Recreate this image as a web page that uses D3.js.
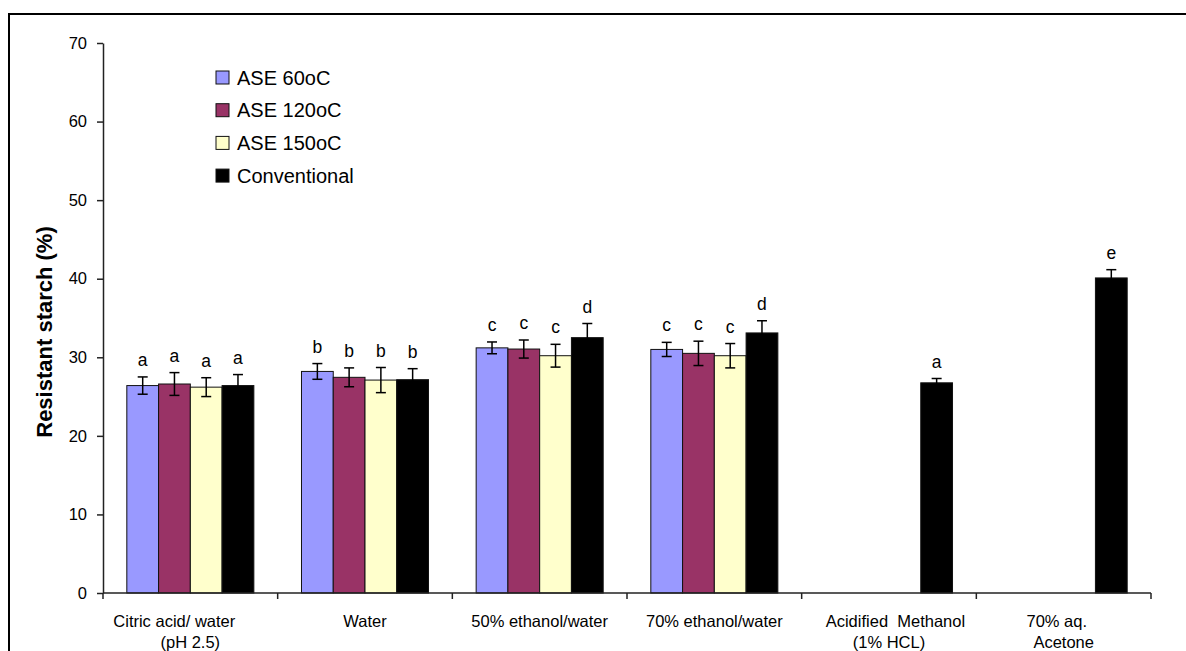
<!DOCTYPE html>
<html>
<head>
<meta charset="utf-8">
<script src="https://cdn.jsdelivr.net/npm/d3@7"></script>
<style>
  html, body { margin: 0; padding: 0; background: #fff; }
  svg { display: block; font-family: "Liberation Sans", Arial, sans-serif; }
</style>
</head>
<body>
<svg id="chart" width="1186" height="651"></svg>
<script>
// Extraction solvents (x categories), each label split over lines
const categories = [
  ["Citric acid/ water       ", "(pH 2.5)"],
  ["Water"],
  ["50% ethanol/water"],
  ["70% ethanol/water"],
  ["   Acidified  Methanol", "(1% HCL)"],
  ["70% aq.   ", "Acetone"]
];

const seriesNames = ["ASE 60oC", "ASE 120oC", "ASE 150oC", "Conventional"];
const seriesColors = ["#9999FF", "#993366", "#FFFFCC", "#000000"];

// Resistant starch (%) per solvent; null = not measured
const ase60 = [26.4, 28.2, 31.2, 31.0, null, null];
const ase120 = [26.6, 27.45, 31.05, 30.5, null, null];
const ase150 = [26.2, 27.1, 30.2, 30.2, null, null];
const conventional = [26.4, 27.15, 32.5, 33.1, 26.75, 40.1];

// Standard deviations
const ase60Err = [1.1, 1.0, 0.75, 0.9, null, null];
const ase120Err = [1.45, 1.2, 1.15, 1.55, null, null];
const ase150Err = [1.2, 1.6, 1.45, 1.55, null, null];
const conventionalErr = [1.4, 1.4, 1.8, 1.55, 0.55, 1.05];

// Significance letters
const ase60Letters = ["a", "b", "c", "c", null, null];
const ase120Letters = ["a", "b", "c", "c", null, null];
const ase150Letters = ["a", "b", "c", "c", null, null];
const conventionalLetters = ["a", "b", "d", "d", "a", "e"];

const yTicks = [0, 10, 20, 30, 40, 50, 60, 70];

const values = [ase60, ase120, ase150, conventional];
const errors = [ase60Err, ase120Err, ase150Err, conventionalErr];
const letters = [ase60Letters, ase120Letters, ase150Letters, conventionalLetters];

const rows = [];
categories.forEach((c, ci) => {
  seriesNames.forEach((s, si) => {
    if (values[si][ci] != null) {
      rows.push({ ci, si, v: values[si][ci], e: errors[si][ci], l: letters[si][ci] });
    }
  });
});

const svg = d3.select("#chart");

// outer chart frame
svg.append("rect")
  .attr("x", 9).attr("y", 14)
  .attr("width", 1300).attr("height", 800)
  .attr("fill", "none").attr("stroke", "#000").attr("stroke-width", 2);

const plot = { left: 103, right: 1151, top: 43, bottom: 593 };

const x = d3.scaleBand()
  .domain(d3.range(categories.length))
  .range([plot.left, plot.right])
  .paddingInner(0).paddingOuter(0);

const xs = d3.scaleBand()
  .domain(d3.range(seriesNames.length))
  .range([0, x.bandwidth()])
  .paddingInner(0).paddingOuter(0.75);

const y = d3.scaleLinear().domain([0, 70]).range([plot.bottom, plot.top]);

const fontTick = "16.5px";

// bars
svg.append("g").selectAll("rect")
  .data(rows)
  .join("rect")
  .attr("x", d => x(d.ci) + xs(d.si))
  .attr("y", d => y(d.v))
  .attr("width", xs.bandwidth())
  .attr("height", d => y(0) - y(d.v))
  .attr("fill", d => seriesColors[d.si])
  .attr("stroke", "#111")
  .attr("stroke-width", 1);

// error bars
const eb = svg.append("g").attr("stroke", "#000").attr("stroke-width", 1.5);
rows.forEach(d => {
  const cx = x(d.ci) + xs(d.si) + xs.bandwidth() / 2;
  const y1 = y(d.v + d.e), y2 = y(d.v - d.e);
  eb.append("line").attr("x1", cx).attr("x2", cx).attr("y1", y1).attr("y2", y2);
  eb.append("line").attr("x1", cx - 5).attr("x2", cx + 5).attr("y1", y1).attr("y2", y1);
  eb.append("line").attr("x1", cx - 5).attr("x2", cx + 5).attr("y1", y2).attr("y2", y2);
});

// significance letters
svg.append("g").selectAll("text")
  .data(rows)
  .join("text")
  .attr("x", d => x(d.ci) + xs(d.si) + xs.bandwidth() / 2)
  .attr("y", d => y(d.v + d.e) - 11)
  .attr("text-anchor", "middle")
  .attr("font-size", "17.5px")
  .attr("fill", "#000")
  .text(d => d.l);

// y axis
const yAxis = svg.append("g")
  .attr("transform", `translate(${plot.left},0)`)
  .call(d3.axisLeft(y).tickValues(yTicks).tickSize(6).tickPadding(10).tickSizeOuter(0));
yAxis.select(".domain").attr("stroke", "#222").attr("stroke-width", 1.5);
yAxis.selectAll(".tick line").attr("stroke", "#222").attr("stroke-width", 1.5);
yAxis.selectAll(".tick text")
  .attr("font-size", fontTick)
  .attr("font-family", "Liberation Sans, Arial, sans-serif")
  .attr("fill", "#000");

// x axis with ticks at category boundaries
const xAxisG = svg.append("g");
xAxisG.append("line")
  .attr("x1", plot.left).attr("x2", plot.right)
  .attr("y1", y(0)).attr("y2", y(0))
  .attr("stroke", "#222").attr("stroke-width", 1.5);
xAxisG.selectAll("line.tk")
  .data(d3.range(categories.length + 1))
  .join("line")
  .attr("class", "tk")
  .attr("x1", i => i < categories.length ? x(i) : plot.right)
  .attr("x2", i => i < categories.length ? x(i) : plot.right)
  .attr("y1", y(0)).attr("y2", y(0) + 6)
  .attr("stroke", "#222").attr("stroke-width", 1.5);

const xl = xAxisG.selectAll("text.cat")
  .data(categories)
  .join("text")
  .attr("class", "cat")
  .attr("text-anchor", "middle")
  .attr("font-size", fontTick)
  .attr("fill", "#000")
  .style("white-space", "pre");
xl.each(function (lines, i) {
  const t = d3.select(this);
  lines.forEach((ln, k) => {
    t.append("tspan")
      .attr("x", x(i) + x.bandwidth() / 2)
      .attr("y", 626.5 + k * 21.5)
      .text(ln);
  });
});

// y axis title
svg.append("text")
  .attr("transform", `translate(52,${(plot.top + plot.bottom) / 2 + 14}) rotate(-90)`)
  .attr("text-anchor", "middle")
  .attr("font-size", "22px")
  .attr("font-weight", "bold")
  .attr("fill", "#000")
  .text("Resistant starch (%)");

// legend
const legend = svg.append("g").attr("transform", "translate(216,77.5)");
seriesNames.forEach((s, i) => {
  const g = legend.append("g").attr("transform", `translate(0,${i * 32.7})`);
  g.append("rect")
    .attr("x", 0).attr("y", -6.5)
    .attr("width", 13).attr("height", 13)
    .attr("fill", seriesColors[i])
    .attr("stroke", "#111").attr("stroke-width", 1);
  g.append("text")
    .attr("x", 21).attr("y", 0).attr("dy", "0.36em")
    .attr("font-size", "20px")
    .attr("fill", "#000")
    .text(s);
});
</script>
</body>
</html>
